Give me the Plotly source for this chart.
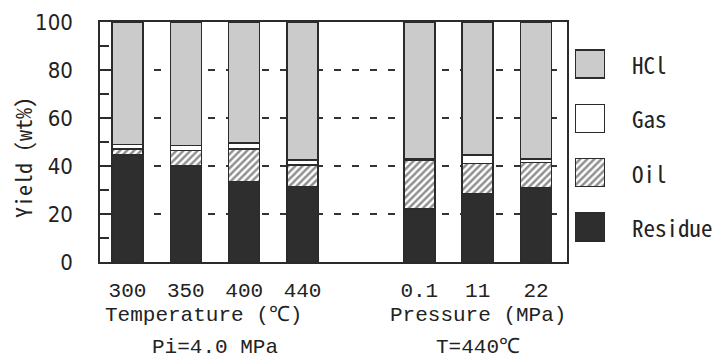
import plotly.graph_objects as go

# ---- data ----
categories = ["300", "350", "400", "440", "0.1", "11", "22"]
groups = ["T", "T", "T", "T", "P", "P", "P"]
residue = [44.5, 40, 33.5, 31.5, 22, 28.5, 31]
oil = [2.5, 6.5, 13.5, 9, 20.5, 12.5, 10.5]
gas = [2, 2, 2.5, 2, 0.5, 3.5, 1.5]
hcl = [51, 51.5, 50.5, 57.5, 57, 55.5, 57]
series_names = ["Residue", "Oil", "Gas", "HCl"]
y_ticks = [0, 20, 40, 60, 80, 100]

# ---- styling ----
W, H = 717, 358
ML, MR, MT, MB = 100, 0, 22, 96
PW = W - ML - MR
PH = H - MT - MB
plot_right = 567
dom_main = (plot_right - ML) / PW

LINE = "#2b2b2b"
MONO = "Noto Sans Mono CJK JP, Liberation Mono, DejaVu Sans Mono, monospace"
MONO2 = "Liberation Mono, DejaVu Sans Mono, monospace"
NARROW = "Liberation Sans Narrow, Arial Narrow, DejaVu Sans Condensed, Liberation Sans, sans-serif"
TXT = "#222"

styles = {
    "Residue": dict(color="#2e2e2e", pattern=dict(shape="")),
    "Oil": dict(color="white", pattern=dict(shape="/", fgcolor="#222222", bgcolor="white",
                                            size=5, solidity=0.5, fillmode="overlay")),
    "Gas": dict(color="white", pattern=dict(shape="")),
    "HCl": dict(color="#cbcbcb", pattern=dict(shape="")),
}
values = {"Residue": residue, "Oil": oil, "Gas": gas, "HCl": hcl}

# x positions: one empty slot between the two groups
x_pos = []
for i, g in enumerate(groups):
    x_pos.append(i + (1 if g == "P" else 0))

fig = go.Figure()
for name in series_names:
    st = styles[name]
    fig.add_trace(go.Bar(
        x=x_pos, y=values[name], name=name, width=0.53,
        marker=dict(color=st["color"], pattern=st["pattern"],
                    line=dict(color=LINE, width=1.5)),
        showlegend=False, xaxis="x", yaxis="y",
    ))

# custom legend swatches (large boxes) on an auxiliary axis
legend_order = ["HCl", "Gas", "Oil", "Residue"]
for i, name in enumerate(legend_order):
    st = styles[name]
    fig.add_trace(go.Bar(
        y=[i], x=[1], orientation="h", width=0.52,
        marker=dict(color=st["color"], pattern=st["pattern"],
                    line=dict(color=LINE, width=1.5)),
        showlegend=False, xaxis="x2", yaxis="y2", hoverinfo="skip",
    ))
    fig.add_annotation(text=name, xref="paper", yref="y2",
                       x=(630 - ML) / PW, y=i, xanchor="left", yanchor="middle",
                       showarrow=False, font=dict(family=MONO, size=23, color=TXT))

fig.update_layout(
    width=W, height=H, margin=dict(l=ML, r=MR, t=MT, b=MB, autoexpand=False),
    paper_bgcolor="white", plot_bgcolor="white",
    barmode="stack",
    xaxis=dict(domain=[0, dom_main], range=[-0.47, 7.53], automargin=False,
               tickvals=x_pos, ticktext=categories, ticks="",
               showline=True, linecolor=LINE, linewidth=1.5, mirror=True,
               showgrid=False, zeroline=False, ticklabelstandoff=8,
               tickfont=dict(family=MONO2, size=21, color=TXT)),
    yaxis=dict(domain=[0, 1], range=[0, 100], tickvals=y_ticks, automargin=False,
               ticks="inside", ticklen=12, tickwidth=1.5, tickcolor=LINE,
               minor=dict(ticks="inside", ticklen=9, tickwidth=1.5, tickcolor=LINE, dtick=10, showgrid=False),
               showline=True, linecolor=LINE, linewidth=1.5, mirror=True,
               showgrid=True, gridcolor="#333", gridwidth=1.5, griddash="7px,11px",
               zeroline=False, ticklabelstandoff=21,
               tickfont=dict(family=NARROW, size=22, color=TXT)),
    xaxis2=dict(domain=[(575 - ML) / PW, (605 - ML) / PW], range=[0, 1], anchor="y2",
                visible=False, fixedrange=True, automargin=False),
    yaxis2=dict(domain=[0.0333, 0.9375], range=[3.5, -0.5], anchor="x2",
                visible=False, fixedrange=True, automargin=False),
    showlegend=False,
)

# axis / group titles
fig.add_annotation(text="Yield (wt%)", xref="paper", yref="paper", x=0, y=(262 - 158) / PH,
                   xshift=-78, xanchor="center", yanchor="middle", textangle=-90, showarrow=False,
                   font=dict(family=MONO, size=22, color=TXT))
bottom_texts = [("Temperature (℃)", 1.3, -53), ("Pi=4.0 MPa", 1.5, -85),
                ("Pressure (MPa)", 6, -53), ("T=440℃", 6, -85)]
for txt, xv, ys in bottom_texts:
    fig.add_annotation(text=txt, xref="x", yref="paper", x=xv, y=0,
                       yshift=ys, yanchor="middle", showarrow=False,
                       font=dict(family=MONO2, size=21, color=TXT))

fig.write_html("out.html", config={"displayModeBar": False},
               post_script="document.body.style.margin='0px';")
